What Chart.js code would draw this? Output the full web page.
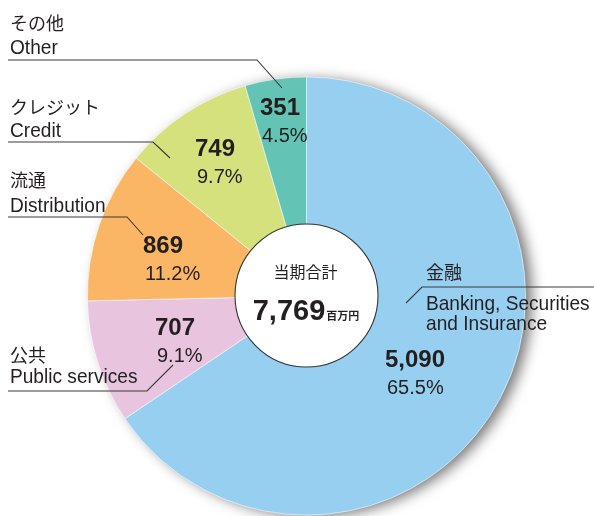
<!DOCTYPE html>
<html><head><meta charset="utf-8">
<script src="https://cdn.jsdelivr.net/npm/chart.js@4"></script>
<style>html,body{margin:0;padding:0;background:#fff;overflow:hidden}
#wrap{position:relative;width:594px;height:520px}</style></head>
<body><div id="wrap"><canvas id="c"></canvas></div>
<script>
const categoriesJa = ['金融','公共','流通','クレジット','その他'];
const categoriesEn = [['Banking, Securities','and Insurance'],['Public services'],['Distribution'],['Credit'],['Other']];
const values = [5090,707,869,749,351];
const valueLabels = ['5,090','707','869','749','351'];
const percentLabels = ['65.5%','9.1%','11.2%','9.7%','4.5%'];
const totalTitle = '当期合計';
const totalLabel = '7,769';
const totalUnit = '百万円';

const colors = ['#97cff0','#e8c4de','#fbb665','#d5e17c','#63c4b5'];
const TXT = '#231f20';
const JA = '"Noto Sans CJK JP", "Noto Sans", sans-serif';
const EN = '"Liberation Sans", Arial, sans-serif';

// annotation layout (text placement only)
const valuePos = [[385,367],[155,335],[143,253],[195,156],[260,115]]; // left x, number baseline
const catLayout = [
  {ja:[426,272], en:[[426,310],[426,330]], line:[[594,287],[422,287],[406,303]]},
  {ja:[10,355], en:[[10,383]], line:[[8,391],[147,391],[173,365]]},
  {ja:[10,180], en:[[10,212]], line:[[8,217],[127,217],[143,235]]},
  {ja:[10,107], en:[[10,137]], line:[[8,142],[153,142],[170,158]]},
  {ja:[10,23], en:[[10,54]], line:[[8,60],[257,60],[282,88]]}
];

function ctext(ctx, s, x, y, font, sx){
  ctx.save(); ctx.font = font; ctx.translate(x,y); ctx.scale(sx,1); ctx.fillText(s,0,0); ctx.restore();
}

const annot = {
  id:'annot',
  beforeDatasetsDraw(chart){
    const ctx = chart.ctx;
    const a = chart.getDatasetMeta(0).data[0];
    ctx.save();
    ctx.shadowColor='rgba(0,0,0,0.55)'; ctx.shadowBlur=14; ctx.shadowOffsetX=7; ctx.shadowOffsetY=2;
    ctx.beginPath(); ctx.arc(a.x,a.y,a.outerRadius-1,0,2*Math.PI);
    ctx.fillStyle=colors[0]; ctx.fill();
    ctx.restore();
  },
  afterDatasetsDraw(chart){
    const ctx = chart.ctx;
    const a = chart.getDatasetMeta(0).data[0];
    const cx = a.x, cy = a.y;
    // center circle
    ctx.save();
    ctx.beginPath(); ctx.arc(cx, cy-0.5, 71.5, 0, 2*Math.PI);
    ctx.fillStyle='#fff'; ctx.fill();
    ctx.lineWidth=1.1; ctx.strokeStyle='#333'; ctx.stroke();
    ctx.fillStyle=TXT;
    ctx.textAlign='center'; ctx.textBaseline='middle';
    ctx.font='16px '+JA;
    ctx.fillText(totalTitle, cx-1, 272);
    ctx.textBaseline='alphabetic'; ctx.textAlign='left';
    ctx.font='bold 29px '+EN;
    const w1 = ctx.measureText(totalLabel).width;
    ctx.font='bold 11px '+JA;
    const w2 = ctx.measureText(totalUnit).width;
    const x0 = cx - 1 - (w1+w2)/2;
    ctx.font='bold 29px '+EN;
    ctx.fillText(totalLabel, x0, 320);
    ctx.font='bold 11px '+JA;
    ctx.fillText(totalUnit, x0+w1+1, 320);
    // value labels
    values.forEach((v,i)=>{
      const [x,y] = valuePos[i];
      ctx.font='bold 24px '+EN; ctx.textAlign='left'; ctx.textBaseline='alphabetic';
      ctx.fillText(valueLabels[i], x, y);
      ctx.font='20px '+EN;
      ctx.fillText(percentLabels[i], x+2, y+27);
    });
    // category labels
    catLayout.forEach((c,i)=>{
      ctx.fillStyle=TXT;
      ctx.font='18px '+JA; ctx.textBaseline='middle'; ctx.textAlign='left';
      ctx.fillText(categoriesJa[i], c.ja[0], c.ja[1]);
      ctx.textBaseline='alphabetic';
      categoriesEn[i].forEach((s,j)=>ctext(ctx, s, c.en[j][0], c.en[j][1], '21px '+EN, 0.91));
      ctx.beginPath();
      c.line.forEach((p,k)=> k? ctx.lineTo(p[0],p[1]) : ctx.moveTo(p[0],p[1]));
      ctx.lineWidth=1.1; ctx.strokeStyle='#3a3a3a'; ctx.stroke();
    });
    ctx.restore();
  }
};

new Chart(document.getElementById('c'), {
  type:'pie',
  data:{ labels: categoriesJa, datasets:[{ data: values, backgroundColor: colors, borderColor:'rgba(255,255,255,0.7)', borderWidth:0.8 }]},
  options:{
    responsive:true, maintainAspectRatio:false, animation:false, devicePixelRatio:1,
    layout:{ padding:{ left:87, right:68, top:76, bottom:4 } },
    plugins:{ legend:{display:false}, tooltip:{enabled:false} }
  },
  plugins:[annot]
});
</script></body></html>
